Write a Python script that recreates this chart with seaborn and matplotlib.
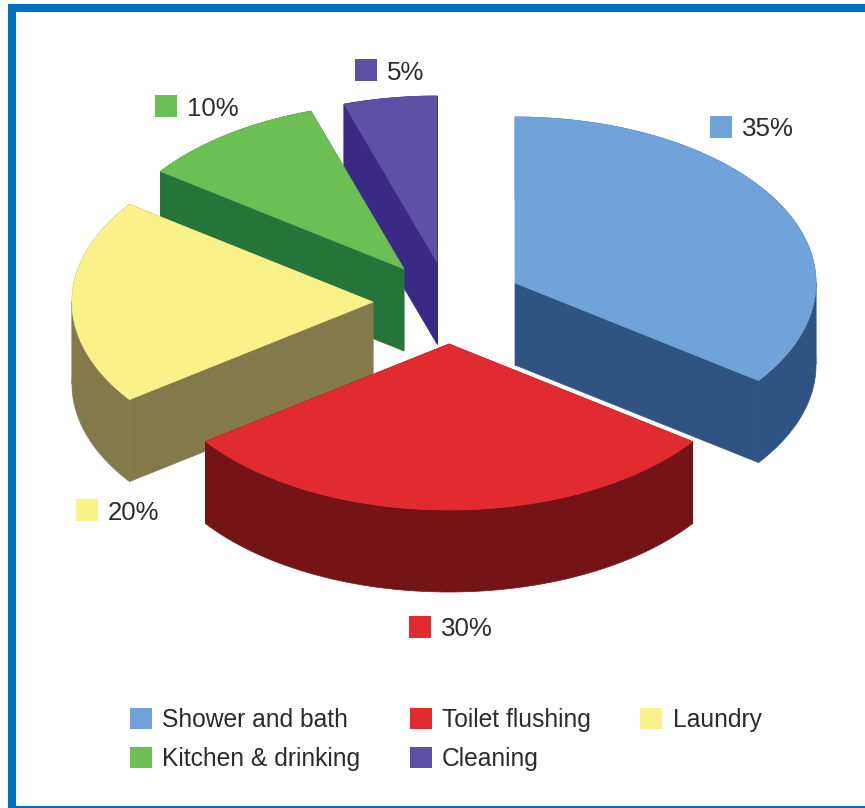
import numpy as np
import pandas as pd
import matplotlib
matplotlib.use("Agg")
import matplotlib.pyplot as plt
from matplotlib.patches import Patch, Rectangle
import seaborn as sns

# Household water use by purpose (percent)
categories = ["Shower and bath", "Toilet flushing", "Laundry", "Kitchen & drinking", "Cleaning"]
shares = [35, 30, 20, 10, 5]

top_colors = ["#6FA3DA", "#E12B30", "#FAF289", "#6CBF52", "#5E50A6"]
side_colors = ["#2F5383", "#741416", "#84794A", "#25743A", "#3A2A85"]

# Layout in pixels: apex of each exploded slice and the key next to its value
apex_x = [515, 449, 373, 404, 437]
apex_y = [283, 344, 302, 269, 262]
key_x = [721, 420, 87, 166, 366]
key_y = [127, 627, 510, 106, 70]

RX, RY, DEPTH = 301, 166, 82
LEGEND_FONT = 17.7
VALUE_FONT = 18.6
BLUE = "#0070C0"
TEXT = "#2B2B2B"

sns.set_theme(style="white")
plt.rcParams["font.family"] = ["Liberation Sans", "DejaVu Sans"]

fig = plt.figure(figsize=(8.65, 8.08), dpi=100, facecolor="white")
ax = fig.add_axes([0, 0, 1, 1])

# Page frame: heavy top and left rules, hairline along the bottom
ax.add_patch(Rectangle((8, 3.5), 857, 8, color=BLUE, lw=0, zorder=1))
ax.add_patch(Rectangle((8, 3.5), 8, 804.5, color=BLUE, lw=0, zorder=1))
ax.add_patch(Rectangle((8, 805.5), 857, 2, color=BLUE, lw=0, zorder=1))

# Each slice spans a clockwise arc from the top, sized by its share
ends = np.cumsum(shares) / sum(shares) * 2 * np.pi
starts = np.concatenate([[0], ends[:-1]])


def draw_slice(i, z):
    """Draw one extruded slice: walls first, then the top face."""
    theta = np.linspace(starts[i], ends[i], 241)
    arc_x = apex_x[i] + RX * np.sin(theta)
    arc_y = apex_y[i] - RY * np.cos(theta)
    side = dict(facecolor=side_colors[i], edgecolor=side_colors[i], lw=0.5, zorder=z)

    # The rim is split where the arc turns back in x, so each band stays simple
    cuts = sorted({int(arc_x.argmax()), int(arc_x.argmin())} - {0, len(arc_x) - 1})
    bounds = [0] + cuts + [len(arc_x) - 1]
    for lo, hi in zip(bounds[:-1], bounds[1:]):
        seg_x, seg_y = arc_x[lo:hi + 1], arc_y[lo:hi + 1]
        ax.fill(np.r_[seg_x, seg_x[::-1]], np.r_[seg_y, seg_y[::-1] + DEPTH], **side)

    for px, py in ((arc_x[0], arc_y[0]), (arc_x[-1], arc_y[-1])):
        ax.fill([apex_x[i], px, px, apex_x[i]],
                [apex_y[i], py, py + DEPTH, apex_y[i] + DEPTH], **side)
    ax.fill(np.r_[apex_x[i], arc_x], np.r_[apex_y[i], arc_y],
            facecolor=top_colors[i], edgecolor=top_colors[i], lw=0.5, zorder=z + 0.5)


# Paint back to front so nearer slices overlap farther ones
for rank, i in enumerate([4, 3, 2, 0, 1]):
    draw_slice(i, 2 + rank)

# Value labels with their colour keys
keys = pd.DataFrame({"x": key_x, "y": key_y, "category": categories})
sns.scatterplot(data=keys, x="x", y="y", hue="category", hue_order=categories,
                palette=top_colors, marker="s", s=250, linewidth=0,
                legend=False, ax=ax, zorder=10)
for x, y, v in zip(key_x, key_y, shares):
    ax.text(x + 21, y, f"{v}%", fontsize=VALUE_FONT, color=TEXT,
            va="center_baseline", ha="left", zorder=11)

ax.set_xlim(0, 865)
ax.set_ylim(808, 0)
ax.axis("off")

# Legend reads across in two rows; matplotlib fills it by column
legend_order = [0, 3, 1, 4, 2]
handles = [Patch(facecolor=top_colors[i], edgecolor="none", label=categories[i]) for i in legend_order]
ax.legend(handles=handles, ncol=3, frameon=False, fontsize=LEGEND_FONT,
          handlelength=0.9, handleheight=0.95, handletextpad=0.42,
          columnspacing=2.0, labelspacing=0.62, borderpad=0, borderaxespad=0,
          labelcolor=TEXT, loc="upper left", bbox_to_anchor=(130 / 865, 1 - 708 / 808))

fig.savefig("out.png", dpi=100, facecolor="white")
